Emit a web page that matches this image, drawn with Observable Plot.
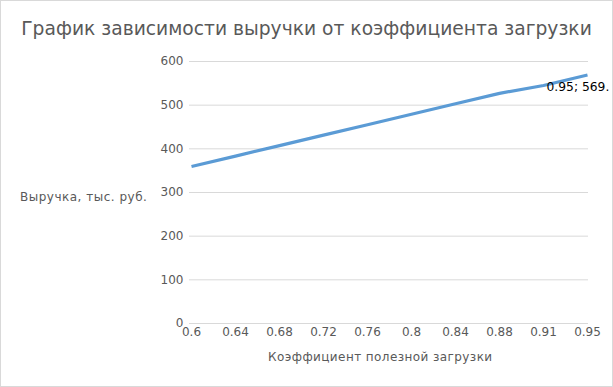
<!DOCTYPE html>
<html>
<head>
<meta charset="utf-8">
<script src="https://cdn.jsdelivr.net/npm/d3@7"></script>
<script src="https://cdn.jsdelivr.net/npm/@observablehq/plot@0.6"></script>
<style>
  body { margin: 0; background: #fff; }
  #wrap { position: relative; width: 613px; height: 387px; font-family: "DejaVu Sans", sans-serif; color: #595959; overflow: hidden; }
  .lbl { position: absolute; white-space: nowrap; }
  #border { position: absolute; left: 0; top: 0; width: 613px; height: 387px; box-sizing: border-box; border: 1px solid #d9d9d9; pointer-events: none; }
</style>
</head>
<body>
<div id="wrap"></div>
<script>
const titleText = "График зависимости выручки от коэффициента загрузки";
const yTitle = "Выручка, тыс. руб.";
const xTitle = "Коэффициент полезной загрузки";
const xLabels = ["0.6", "0.64", "0.68", "0.72", "0.76", "0.8", "0.84", "0.88", "0.91", "0.95"];
const revenue = [359.4, 383.4, 407.3, 431.3, 455.2, 479.2, 503.2, 527.1, 545.1, 569.1];
const yTicks = [0, 100, 200, 300, 400, 500, 600];
const pointLabel = "0.95; 569.";

const data = xLabels.map((k, i) => ({k, v: revenue[i]}));

const chart = Plot.plot({
  width: 613,
  height: 387,
  marginLeft: 189,
  marginRight: 25,
  marginTop: 61,
  marginBottom: 64,
  style: {fontFamily: "DejaVu Sans, sans-serif", fontSize: "12px", color: "#595959", background: "transparent", overflow: "visible"},
  x: {type: "point", domain: xLabels, padding: 0},
  y: {domain: [0, 600]},
  marks: [
    Plot.gridY(yTicks, {stroke: "#d9d9d9", strokeOpacity: 1}),
    Plot.axisY(yTicks, {tickSize: 0, tickPadding: 6, label: null, fill: "#595959"}),
    Plot.axisX({tickSize: 0, tickPadding: 4, label: null, fill: "#595959"}),
    Plot.line(data, {x: "k", y: "v", stroke: "#5b9bd5", strokeWidth: 3.2, strokeLinejoin: "round", strokeLinecap: "butt"}),
    Plot.text([data[data.length - 1]], {x: "k", y: "v", text: () => pointLabel, textAnchor: "start", dx: -41, dy: 12, fill: "#000", fontSize: 12.3})
  ]
});

const wrap = document.getElementById("wrap");
wrap.appendChild(chart);

function addLabel(text, css) {
  const d = document.createElement("div");
  d.className = "lbl";
  d.textContent = text;
  Object.assign(d.style, css);
  wrap.appendChild(d);
}
addLabel(titleText, {left: "0px", width: "613px", textAlign: "center", top: "18px", fontSize: "18.7px"});
addLabel(yTitle, {left: "20px", top: "190px", fontSize: "12px", letterSpacing: "0.5px"});
addLabel(xTitle, {left: "268px", top: "350px", fontSize: "12px", letterSpacing: "0.42px"});
const b = document.createElement("div");
b.id = "border";
wrap.appendChild(b);
</script>
</body>
</html>
